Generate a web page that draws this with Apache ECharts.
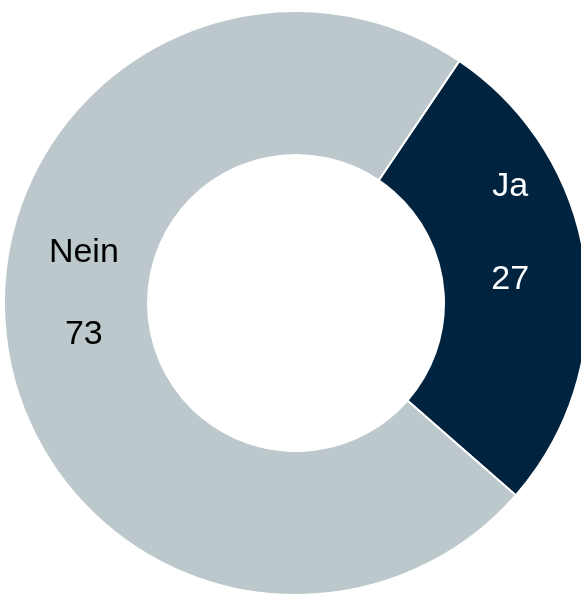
<!DOCTYPE html>
<html>
<head>
<meta charset="utf-8">
<script src="https://cdn.jsdelivr.net/npm/echarts@6/dist/echarts.min.js"></script>
<style>
html,body{margin:0;padding:0;background:#fff;}
#chart{width:581px;height:600px;}
</style>
</head>
<body>
<div id="chart"></div>
<script>
var categories = ['Ja', 'Nein'];
var values = [27, 73];
var colors = ['#002440', '#bcc8cb'];
var labelColors = ['#ffffff', '#000000'];

var chart = echarts.init(document.getElementById('chart'), null, {renderer: 'canvas'});

var labelTweaks = [
  {lineHeight: 93, spacer: 82, pad: [0, 14, 0, 0]},
  {lineHeight: 82, spacer: 76, pad: [0, 0, 0, 18]}
];

var data = categories.map(function (c, i) {
  var t = labelTweaks[i];
  return {
    name: c,
    value: values[i],
    itemStyle: {color: colors[i]},
    label: {
      color: labelColors[i],
      rich: {
        t: {
          color: labelColors[i],
          fontSize: 34,
          lineHeight: t.lineHeight,
          padding: t.pad,
          fontFamily: '"Liberation Sans", Arial, sans-serif'
        },
        s: {fontSize: 1, lineHeight: t.spacer}
      }
    }
  };
});

chart.setOption({
  animation: false,
  backgroundColor: '#ffffff',
  series: [{
    type: 'pie',
    center: [296, 303],
    radius: [148, 292],
    startAngle: 56,
    clockwise: true,
    avoidLabelOverlap: false,
    itemStyle: {borderColor: '#ffffff', borderWidth: 2},
    label: {
      show: true,
      position: 'inside',
      rotate: 0,
      formatter: '{t|{b}}\n{t|{c}}\n{s| }',
      fontFamily: '"Liberation Sans", Arial, sans-serif',
      fontSize: 34,
      align: 'center'
    },
    labelLine: {show: false},
    emphasis: {disabled: true},
    data: data
  }]
});
</script>
</body>
</html>
